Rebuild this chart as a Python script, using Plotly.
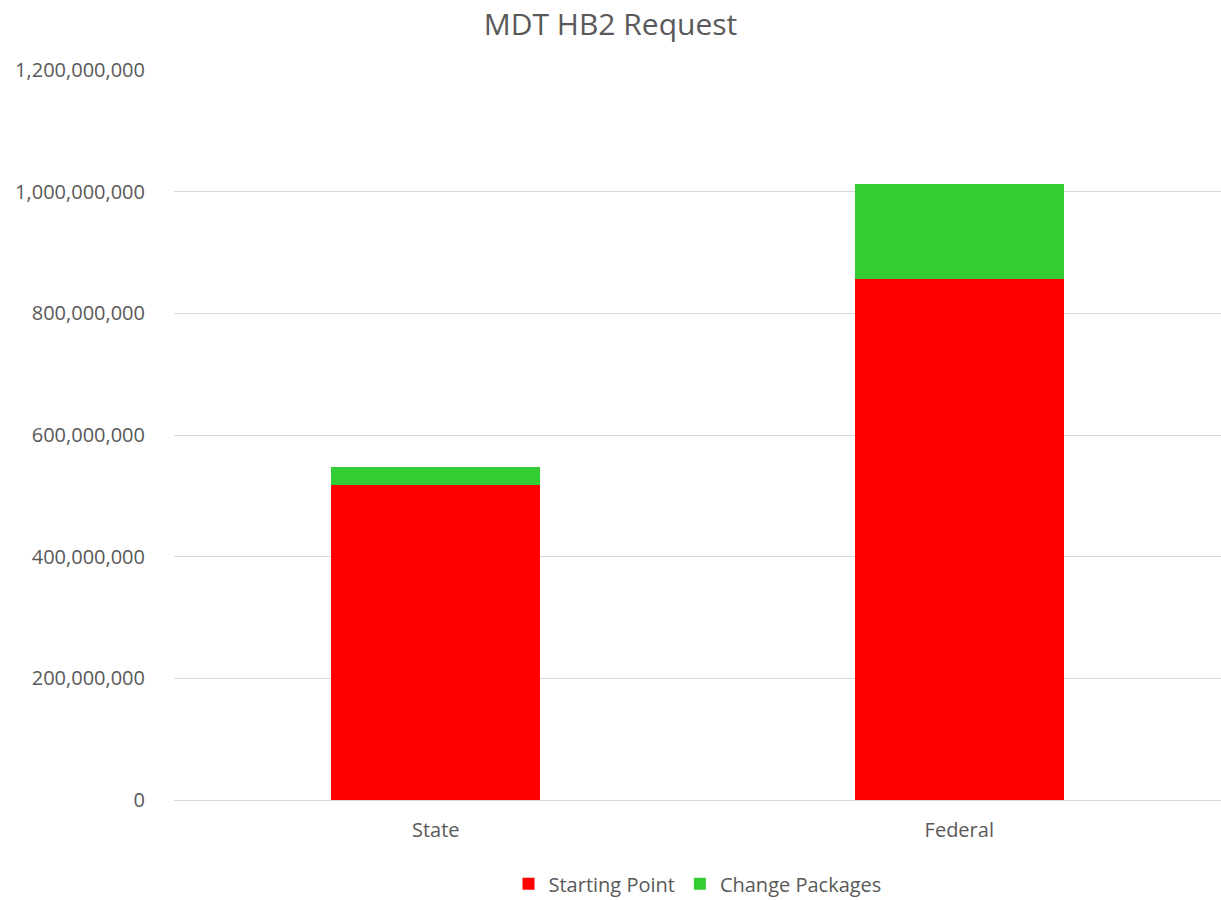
import plotly.graph_objects as go

categories = ["State", "Federal"]
starting_point = [517_000_000, 856_000_000]
change_packages = [30_000_000, 157_000_000]
y_ticks = [0, 200_000_000, 400_000_000, 600_000_000, 800_000_000, 1_000_000_000, 1_200_000_000]
y_tick_labels = ["0", "200,000,000", "400,000,000", "600,000,000", "800,000,000", "1,000,000,000", "1,200,000,000"]

font_family = "Open Sans, Liberation Sans, sans-serif"
text_color = "#595959"

fig = go.Figure()
fig.add_trace(go.Bar(x=categories, y=starting_point, name="Starting Point",
                     marker=dict(color="#FF0000", line=dict(width=0)), width=0.4))
fig.add_trace(go.Bar(x=categories, y=change_packages, name="Change Packages",
                     marker=dict(color="#33CC33", line=dict(width=0)), width=0.4))

fig.update_layout(
    barmode="stack",
    width=1221, height=900,
    paper_bgcolor="white", plot_bgcolor="white",
    margin=dict(l=174, r=0, t=70, b=100, autoexpand=False),
    font=dict(family=font_family, color=text_color, size=20),
    title=dict(text="MDT HB2 Request", x=0.5, xanchor="center", y=0.973, yanchor="middle",
               font=dict(size=30, color=text_color)),
    showlegend=True,
    legend=dict(orientation="h", x=0.5, xanchor="center", yref="container", y=0.018,
                yanchor="middle", font=dict(size=20, color=text_color), traceorder="normal",
                itemwidth=30),
    xaxis=dict(showgrid=False, showline=True, linecolor="#D9D9D9", linewidth=1,
               ticks="", tickfont=dict(size=20, color=text_color), ticklabelstandoff=12,
               automargin=False),
    yaxis=dict(range=[0, 1_200_000_000], tickvals=y_ticks, ticktext=y_tick_labels,
               showgrid=True, gridcolor="#D9D9D9", gridwidth=1, zeroline=False,
               showline=False, ticks="", tickfont=dict(size=20, color=text_color),
               ticklabelstandoff=28, automargin=False),
)

fig.write_html("out.html", config={"displayModeBar": False},
               post_script="document.body.style.margin='0';")
